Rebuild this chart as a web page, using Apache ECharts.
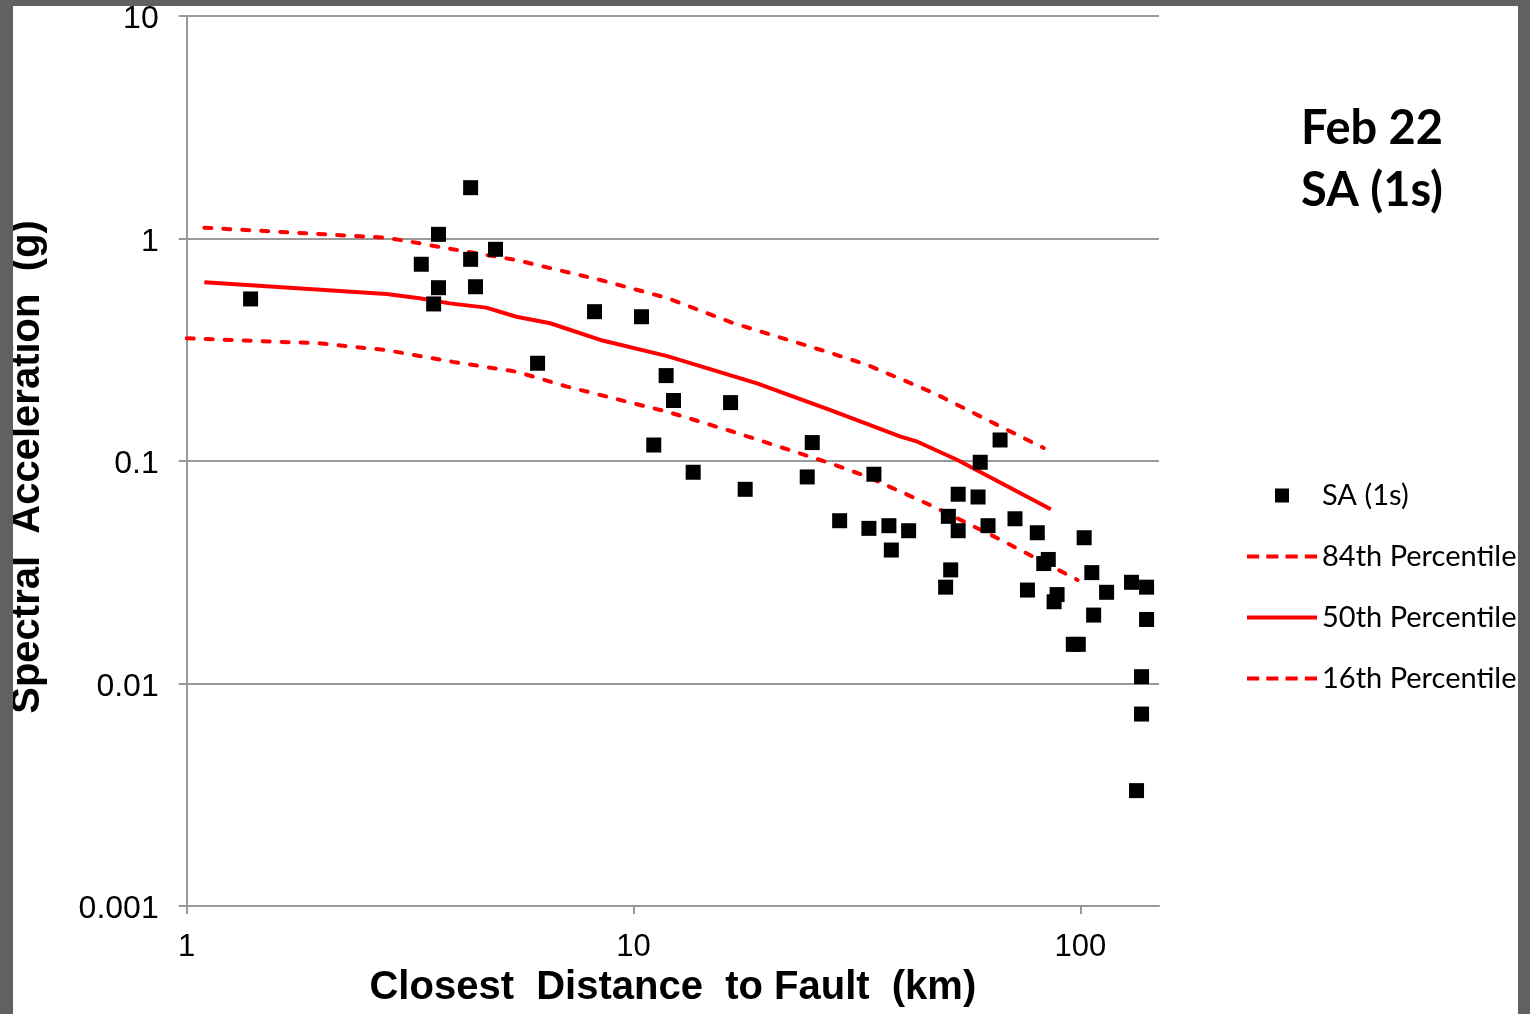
<!DOCTYPE html>
<html>
<head>
<meta charset="utf-8">
<script src="https://cdn.jsdelivr.net/npm/echarts@6/dist/echarts.min.js"></script>
<style>
html,body{margin:0;padding:0;background:#fff;}
#chart{position:absolute;left:0;top:0;width:1530px;height:1014px;background:#fff;}
.bd{position:absolute;background:#616161;pointer-events:none;}
</style>
</head>
<body>
<div id="chart"></div>
<div class="bd" style="left:0;top:0;width:13px;height:1014px;"></div>
<div class="bd" style="left:0;top:0;width:1530px;height:6px;"></div>
<div class="bd" style="left:1518px;top:0;width:12px;height:1014px;"></div>
<script>
// Closest distance (km) and SA(1s) (g) of recorded stations
const obsDist = [1.39,4.32,3.66,3.35,4.32,4.91,3.66,4.43,3.57,6.10,8.18,10.42,11.10,11.83,12.29,13.60,16.49,17.78,24.48,25.12,28.93,33.64,34.52,37.29,37.76,41.28,49.95,50.66,51.27,53.29,53.29,59.03,59.70,62.15,66.13,71.41,76.15,80.11,82.83,84.78,87.36,88.72,96.45,98.97,102.0,106.1,107.1,114.5,130.2,140.7,140.7,137.1,137.1,133.6];
const obsSA   = [0.535,1.692,1.044,0.766,0.806,0.894,0.601,0.607,0.508,0.275,0.469,0.445,0.118,0.242,0.187,0.089,0.183,0.0746,0.0848,0.121,0.0539,0.0498,0.0872,0.0512,0.0398,0.0486,0.0271,0.0564,0.0324,0.0709,0.0486,0.0689,0.0987,0.0512,0.1243,0.055,0.0263,0.0476,0.0346,0.0361,0.0233,0.0251,0.015,0.015,0.0452,0.0315,0.0203,0.0257,0.0285,0.0271,0.0194,0.01073,0.00729,0.0033];

// Percentile curves
const p84Dist = [1.095,2.80,3.32,3.94,5.47,8.43,11.9,16.7,27.6,33.4,47.0,66.4,82.8];
const p84SA   = [1.118,1.008,0.952,0.894,0.80,0.651,0.540,0.417,0.306,0.270,0.202,0.1426,0.1144];
const p50Dist = [1.095,2.80,3.32,3.88,4.68,5.47,6.51,8.43,11.9,18.9,27.6,39.6,43.2,53.1,85.9];
const p50SA   = [0.636,0.563,0.539,0.511,0.489,0.445,0.416,0.350,0.296,0.2234,0.1695,0.1286,0.1221,0.101,0.0607];
const p16Dist = [1.0,1.405,1.98,2.80,3.94,5.47,7.10,10.0,11.9,16.7,27.6,33.4,47.0,66.4,98.6];
const p16SA   = [0.356,0.347,0.338,0.315,0.279,0.252,0.216,0.1816,0.1665,0.1354,0.0976,0.085,0.0623,0.0442,0.0292];

const xTicks = [1, 10, 100];
const yTicks = [0.001, 0.01, 0.1, 1, 10];
const seriesNames = ['SA (1s)', '84th Percentile', '50th Percentile', '16th Percentile'];

const zip = (a, b) => a.map((v, i) => [v, b[i]]);

const chart = echarts.init(document.getElementById('chart'), null, {renderer: 'canvas'});
const axisGray = '#999999';
const dashed = {color: '#ff0000', width: 4, type: [7, 12], cap: 'round'};
const squareIcon = 'path://M0,0h14v14h-14z';
const dashIcon = 'path://M0,0h12v4h-12z M19,0h12v4h-12z M38,0h12v4h-12z M57,0h12v4h-12z';
const solidIcon = 'path://M0,0h69v4h-69z';

chart.setOption({
  backgroundColor: '#ffffff',
  animation: false,
  title: {
    text: 'Feb 22\nSA (1s)',
    left: 1372,
    top: 98,
    padding: 0,
    textAlign: 'center',
    textStyle: {fontFamily: 'Lato', fontWeight: 'bold', fontSize: 47, lineHeight: 62, color: '#000'}
  },
  legend: {
    orient: 'vertical',
    left: 1247,
    top: 481,
    padding: 0,
    itemWidth: 70,
    itemHeight: 14,
    itemGap: 32,
    symbolKeepAspect: true,
    textStyle: {fontFamily: 'Lato', fontSize: 29, lineHeight: 28, color: '#000'},
    data: [
      {name: seriesNames[0], icon: squareIcon, itemStyle: {color: '#000'}},
      {name: seriesNames[1], icon: dashIcon, itemStyle: {color: '#ff0000'}},
      {name: seriesNames[2], icon: solidIcon, itemStyle: {color: '#ff0000'}},
      {name: seriesNames[3], icon: dashIcon, itemStyle: {color: '#ff0000'}}
    ]
  },
  graphic: [{
    type: 'text',
    x: 28, y: 467,
    rotation: Math.PI / 2,
    style: {
      text: 'Spectral  Acceleration  (g)',
      font: 'bold 40px "Liberation Sans"',
      fill: '#000',
      textAlign: 'center',
      textVerticalAlign: 'middle'
    }
  }],
  grid: {left: 186.7, right: 371, top: 16, bottom: 108, containLabel: false},
  xAxis: {
    type: 'log',
    logBase: 10,
    min: 1,
    max: 150,
    name: 'Closest  Distance  to Fault  (km)',
    nameLocation: 'middle',
    nameGap: 62,
    nameTextStyle: {fontFamily: 'Liberation Sans', fontWeight: 'bold', fontSize: 40, color: '#000'},
    axisLine: {show: true, lineStyle: {color: axisGray, width: 2}},
    axisTick: {show: true, length: 8, lineStyle: {color: axisGray, width: 2}, customValues: xTicks},
    axisLabel: {fontFamily: 'Liberation Sans', fontSize: 31, color: '#000', margin: 26, customValues: xTicks,
      formatter: v => String(v)},
    splitLine: {show: false},
    minorTick: {show: false}
  },
  yAxis: {
    type: 'log',
    logBase: 10,
    min: 0.001,
    max: 10,
    axisLine: {show: true, lineStyle: {color: axisGray, width: 2}},
    axisTick: {show: true, length: 8, lineStyle: {color: axisGray, width: 2}, customValues: yTicks},
    axisLabel: {fontFamily: 'Liberation Sans', fontSize: 32, color: '#000', margin: 28, customValues: yTicks,
      formatter: v => '{a|' + v + '}',
      rich: {a: {fontFamily: 'Liberation Sans', fontSize: 32, color: '#000', padding: [7, 0, 0, 0]}}},
    splitLine: {show: true, lineStyle: {color: axisGray, width: 2}}
  },
  series: [
    {
      name: seriesNames[0], type: 'scatter', symbol: 'rect', symbolSize: 15,
      itemStyle: {color: '#000', opacity: 1}, data: zip(obsDist, obsSA), z: 5
    },
    {
      name: seriesNames[1], type: 'line', symbol: 'none', smooth: false,
      lineStyle: dashed, itemStyle: {color: '#ff0000'}, data: zip(p84Dist, p84SA)
    },
    {
      name: seriesNames[2], type: 'line', symbol: 'none', smooth: false,
      lineStyle: {color: '#ff0000', width: 4}, itemStyle: {color: '#ff0000'}, data: zip(p50Dist, p50SA)
    },
    {
      name: seriesNames[3], type: 'line', symbol: 'none', smooth: false,
      lineStyle: dashed, itemStyle: {color: '#ff0000'}, data: zip(p16Dist, p16SA)
    }
  ]
});
</script>
</body>
</html>
